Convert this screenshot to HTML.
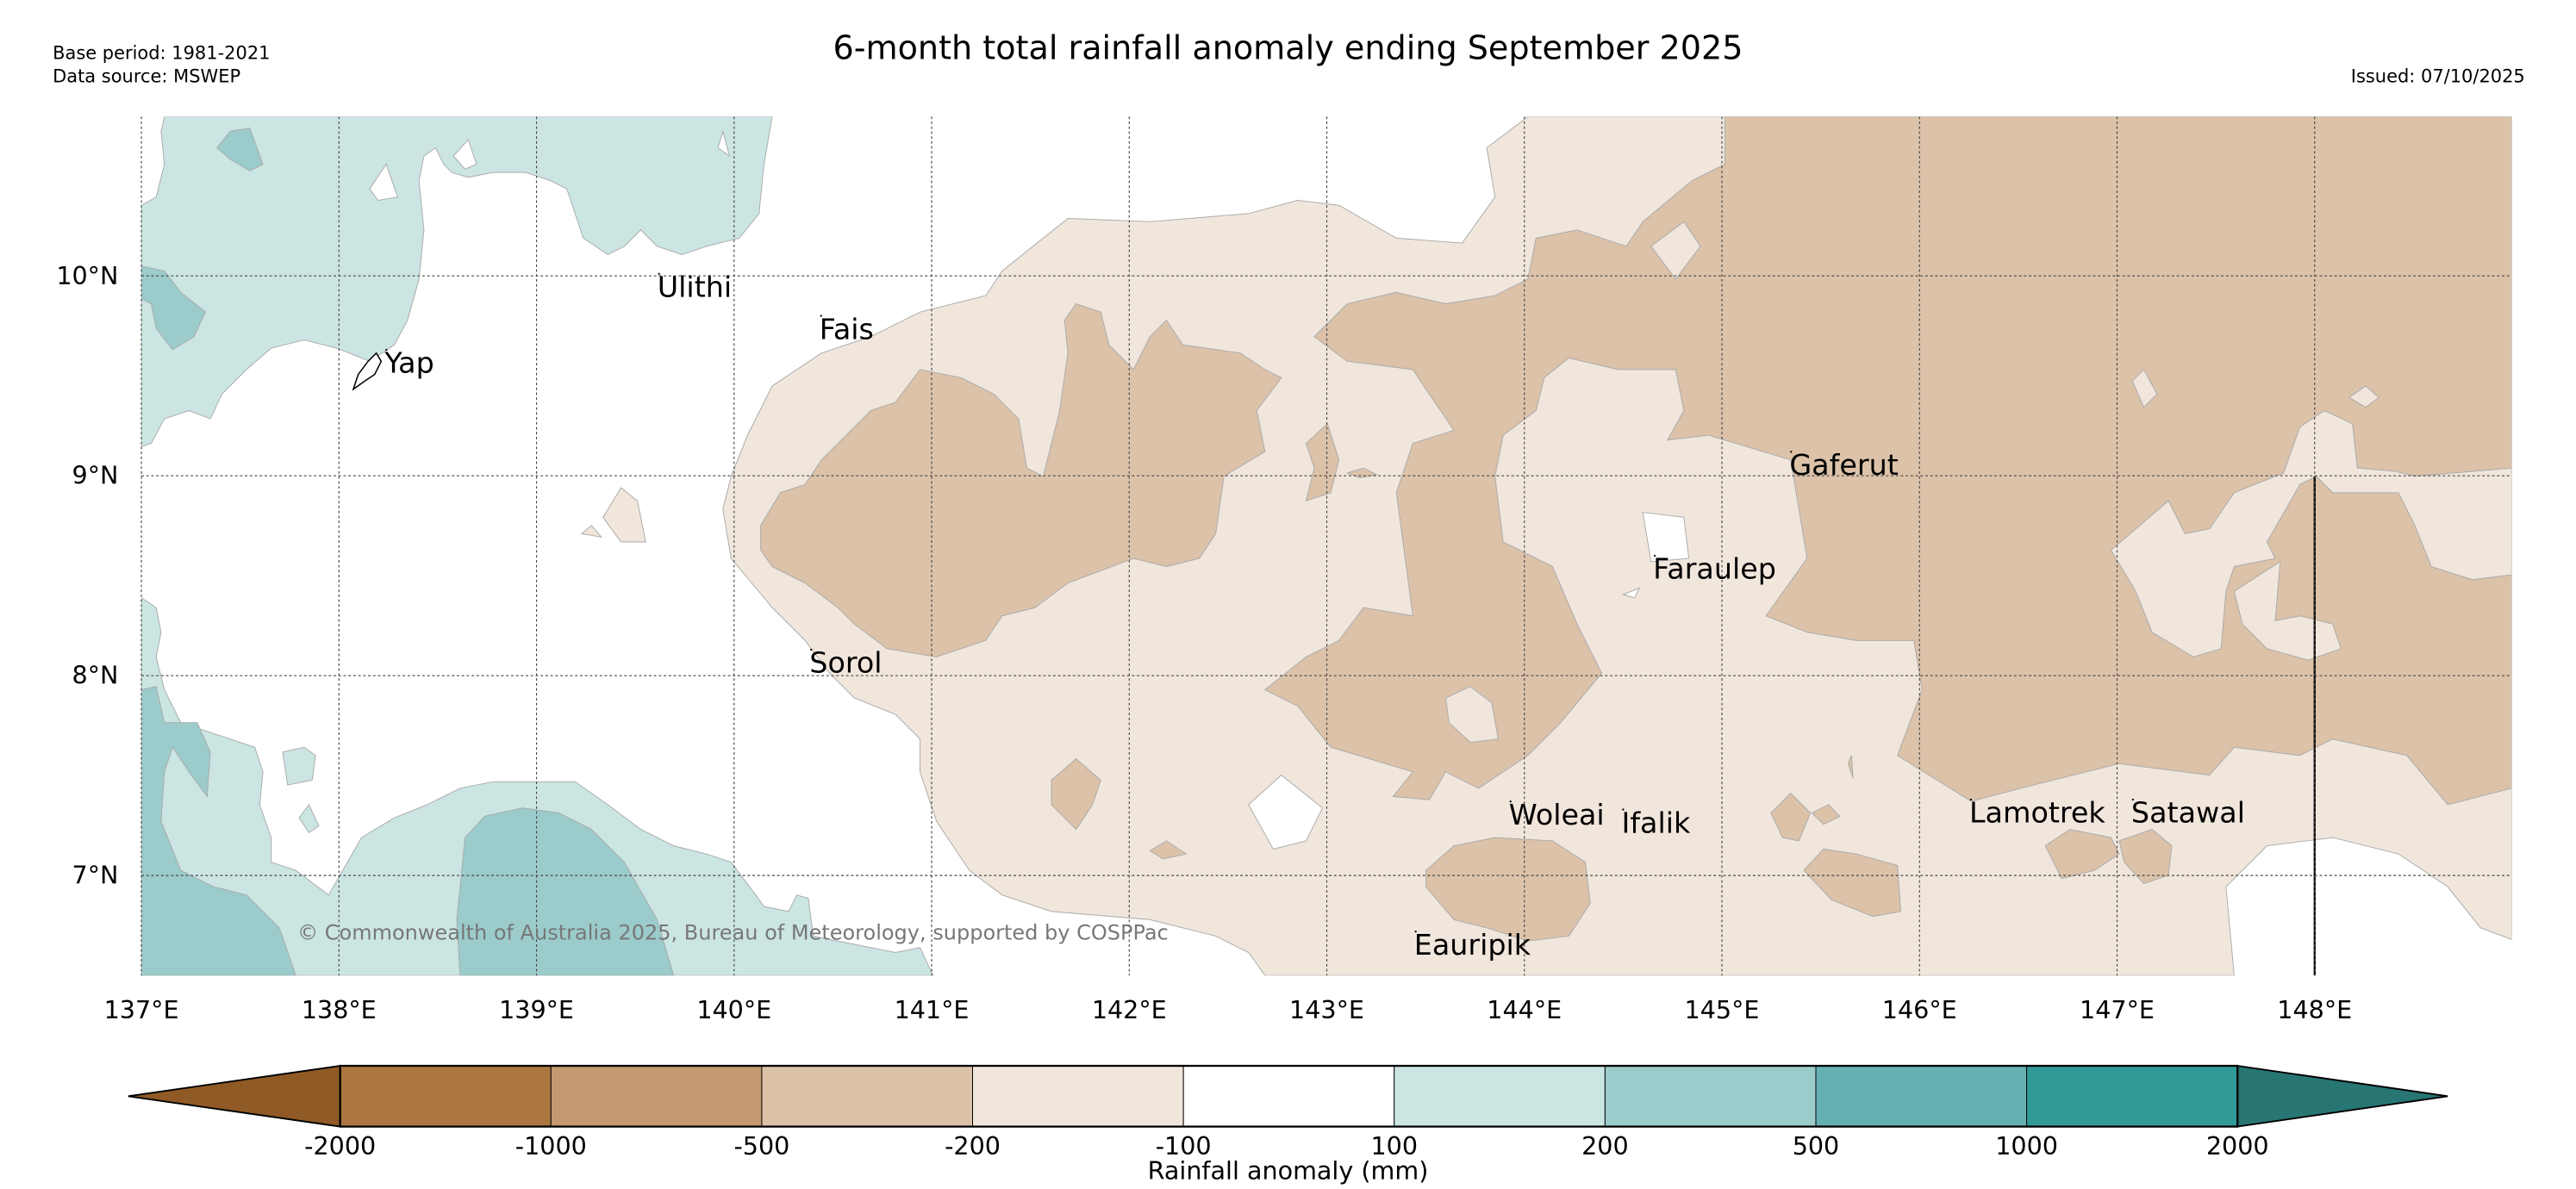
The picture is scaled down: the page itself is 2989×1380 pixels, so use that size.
<!DOCTYPE html>
<html><head><meta charset="utf-8"><style>
html,body{margin:0;padding:0;background:#fff;}
svg{display:block;font-family:"DejaVu Sans","Liberation Sans",sans-serif;}
</style></head><body>
<svg id="chart" width="2989" height="1380" viewBox="0 0 1568 724" xmlns="http://www.w3.org/2000/svg">
<text x="784" y="36" font-size="20" text-anchor="middle">6-month total rainfall anomaly ending September 2025</text>
<text x="32" y="36" font-size="11">Base period: 1981-2021</text>
<text x="32" y="50" font-size="11">Data source: MSWEP</text>
<text x="1537" y="50" font-size="11" text-anchor="end">Issued: 07/10/2025</text>
<defs><clipPath id="mapclip"><rect x="86" y="71" width="1443" height="523"/></clipPath></defs>
<g id="map" clip-path="url(#mapclip)"></g>
<g id="grid"></g>
<g id="places"></g>
<text x="181" y="572" font-size="12.6" fill="#777">© Commonwealth of Australia 2025, Bureau of Meteorology, supported by COSPPac</text>
<g id="axes"></g>
<g id="cbar"></g>
<text x="784" y="718" font-size="15" text-anchor="middle">Rainfall anomaly (mm)</text>
</svg>
<script>
const lonTicks=[137,138,139,140,141,142,143,144,145,146,147,148];
const latTicks=[10,9,8,7];
const cbBounds=[-2000,-1000,-500,-200,-100,100,200,500,1000,2000];
const cbColors=["#ab763f","#c39a71","#dbc2a9","#f0e6dc","#ffffff","#cbe5e3","#9bcbcb","#65b1b2","#319a97"];
const cbExtendColors=["#8f5a25","#277674"];
const placeNames=["Ulithi","Fais","Yap","Gaferut","Faraulep","Sorol","Woleai","Ifalik","Lamotrek","Satawal","Eauripik"];
const placeLon=[139.62,140.44,138.24,145.35,144.66,140.39,143.93,144.5,146.26,147.08,143.45];
const placeLat=[10.01,9.8,9.63,9.12,8.6,8.13,7.37,7.33,7.38,7.38,6.72];
const lonToX=l=>86+(l-137)*120.27;
const latToY=l=>168+(10-l)*121.7;
const NS="http://www.w3.org/2000/svg";
function mk(tag,attrs,parent){const e=document.createElementNS(NS,tag);for(const k in attrs)e.setAttribute(k,attrs[k]);parent.appendChild(e);return e;}
const B="#f0e6dc",T="#dbc2a9",W="#ffffff",LT="#cbe5e3",MT="#9bcbcb";
const shapes=[
[B,"930,71 1529,71 1529,572 1510,565 1490,540 1460,520 1420,510 1380,515 1355,540 1360,594 770,594 760,580 740,570 700,560 640,555 610,545 590,530 570,500 560,470 560,450 545,435 520,425 505,410 490,390 470,370 445,340 440,310 445,290 455,265 470,235 500,215 530,205 560,190 600,180 610,165 650,133 700,135 760,130 790,122 815,125 850,145 890,148 910,120 905,90"],
[W,"760,490 780,472 805,492 795,512 775,517"],
[W,"1000,312 1025,315 1028,340 1005,342"],
[W,"988,362 998,358 995,364"],
[T,"1050,71 1529,71 1529,480 1490,490 1465,460 1420,450 1400,460 1360,455 1345,472 1290,465 1230,480 1200,488 1155,460 1170,420 1165,390 1130,390 1100,385 1075,375 1100,340 1090,280 1040,265 1015,268 1025,250 1020,225 985,225 955,218 940,230 935,250 915,265 910,290 915,330 945,345 960,380 975,410 950,440 930,460 900,480 880,470 870,487 848,485 860,470 810,455 790,430 770,420 795,400 815,390 830,370 860,375 850,300 860,270 885,262 870,240 860,225 820,220 800,205 820,185 850,178 880,185 910,180 930,170 935,145 960,140 990,150 1000,135 1030,110 1050,100"],
[B,"1005,150 1025,135 1035,150 1020,170"],
[B,"1285,335 1320,305 1330,325 1345,322 1360,300 1390,288 1400,260 1415,250 1432,258 1435,285 1458,287 1470,290 1529,285 1529,350 1505,353 1480,345 1470,320 1460,300 1420,300 1410,290 1400,295 1380,330 1385,340 1360,345 1355,360 1352,395 1335,400 1310,385 1300,360"],
[B,"1360,360 1388,342 1385,378 1400,375 1420,380 1425,395 1405,402 1380,395 1365,380"],
[B,"1298,232 1305,225 1313,240 1305,248"],
[B,"1430,242 1440,235 1448,242 1440,248"],
[T,"463,320 475,300 490,295 500,280 515,265 530,250 545,245 560,225 585,230 605,240 620,255 625,285 635,290 640,270 645,250 650,215 648,195 655,185 670,190 675,210 690,225 700,205 710,195 720,210 755,215 770,225 780,230 765,250 770,275 745,290 740,325 730,340 710,345 690,340 650,355 630,370 610,375 600,390 570,400 540,395 520,380 510,370 490,355 470,345 463,335"],
[T,"640,475 655,462 670,475 665,490 655,505 640,490"],
[T,"700,518 710,512 722,520 708,523"],
[T,"795,270 808,258 815,280 810,300 795,305 800,285"],
[T,"820,288 830,285 838,289 828,291"],
[T,"868,530 885,515 910,510 945,512 965,525 968,550 955,570 930,573 905,565 885,560 868,540"],
[T,"1078,495 1090,483 1102,495 1095,512 1085,510"],
[T,"1103,495 1113,490 1120,497 1110,502"],
[T,"1098,530 1110,517 1130,520 1155,527 1157,555 1140,558 1115,548"],
[T,"1245,515 1260,505 1285,510 1290,520 1275,530 1255,535"],
[T,"1290,512 1310,505 1322,515 1320,533 1305,538 1293,525"],
[T,"1125,465 1127,460 1128,474"],
[B,"880,425 895,418 908,428 912,450 895,452 882,440"],
[LT,"100,71 470,71 465,100 462,130 450,145 430,150 415,155 400,150 390,140 380,150 370,155 355,145 345,115 335,110 320,105 300,105 285,108 275,105 270,100 265,90 258,95 255,110 258,140 255,170 248,195 240,210 225,220 205,212 185,207 165,212 150,225 135,240 128,255 115,250 100,255 92,270 86,272 86,125 95,120 100,100 98,80"],
[W,"225,115 235,100 242,120 230,122"],
[W,"276,95 285,85 290,100 283,103"],
[W,"437,90 440,80 444,95"],
[MT,"132,90 140,80 152,78 160,100 152,104 140,97"],
[MT,"86,162 100,165 110,178 125,190 118,205 105,213 95,200 92,185 86,182"],
[LT,"86,364 95,370 98,385 95,400 100,420 110,440 125,445 140,450 155,455 160,470 158,490 165,510 165,525 180,530 200,545 220,510 240,498 260,490 280,480 300,476 350,476 370,490 390,505 410,515 430,520 445,525 460,545 465,552 480,555 485,545 492,547 495,570 520,575 545,580 560,577 568,594 86,594"],
[MT,"86,420 95,418 100,440 110,440 120,440 128,458 126,485 115,470 105,455 100,470 98,500 110,530 130,540 150,545 170,565 180,594 86,594"],
[MT,"283,510 295,497 318,492 340,495 360,505 380,525 400,560 410,594 280,594 278,560"],
[LT,"172,458 185,455 192,460 190,475 175,478"],
[LT,"182,498 188,490 194,503 188,507"],
[B,"367,315 378,297 388,305 393,330 378,330"],
[B,"354,325 360,320 366,327"]
];
const map=document.getElementById('map');
shapes.forEach((s,i)=>{
  const p=mk('polygon',{points:s[1],fill:s[0],stroke:"#aaa","stroke-width":0.5},map);
  
  
});
const ln=mk('line',{x1:lonToX(148),x2:lonToX(148),y1:290,y2:594,stroke:"#000","stroke-width":1.2},map);


const yap=mk('path',{d:"M215,237 L218,228 L224,220 L229,215 L232,220 L228,228 L222,232 Z",fill:"#fff",stroke:"#000","stroke-width":0.8},map);


const grid=document.getElementById('grid');
lonTicks.forEach(l=>{const g=mk('line',{x1:lonToX(l),x2:lonToX(l),y1:71,y2:594,stroke:"#444","stroke-width":0.6,"stroke-dasharray":"1.5,1.5"},grid);

});
latTicks.forEach(l=>{const g=mk('line',{x1:86,x2:1529,y1:latToY(l),y2:latToY(l),stroke:"#444","stroke-width":0.6,"stroke-dasharray":"1.5,1.5"},grid);

});
const axes=document.getElementById('axes');
lonTicks.forEach(l=>{const t=mk('text',{x:lonToX(l),y:620,"font-size":15,"text-anchor":"middle"},axes);t.textContent=l+"°E";

});
latTicks.forEach(l=>{const t=mk('text',{x:72,y:latToY(l)+5,"font-size":15,"text-anchor":"end"},axes);t.textContent=l+"°N";

});
const places=document.getElementById('places');
placeNames.forEach((n,i)=>{const x=lonToX(placeLon[i]),y=latToY(placeLat[i]);
const d=mk('circle',{cx:x,cy:y,r:0.6,fill:"#000"},places);


const t=mk('text',{x:x-1,y:y+14,"font-size":17.5},places);t.textContent=n;

});
const cb=document.getElementById('cbar');
const cbX0=207,cbX1=1362,cbY=649,cbH=37,n=cbColors.length,w=(cbX1-cbX0)/n;
const lt=mk('polygon',{points:`78,${cbY+cbH/2} ${cbX0},${cbY} ${cbX0},${cbY+cbH}`,fill:cbExtendColors[0],stroke:"#000","stroke-width":1},cb);


const rt=mk('polygon',{points:`1490,${cbY+cbH/2} ${cbX1},${cbY} ${cbX1},${cbY+cbH}`,fill:cbExtendColors[1],stroke:"#000","stroke-width":1},cb);


cbColors.forEach((c,i)=>{const r=mk('rect',{x:cbX0+i*w,y:cbY,width:w,height:cbH,fill:c,stroke:"#000","stroke-width":0.5},cb);

});
const fr=mk('rect',{x:cbX0,y:cbY,width:cbX1-cbX0,height:cbH,fill:"none",stroke:"#000","stroke-width":1.2},cb);


cbBounds.forEach((b,i)=>{const t=mk('text',{x:cbX0+i*w,y:703,"font-size":15,"text-anchor":"middle"},cb);t.textContent=b;

});
</script>
</body></html>
